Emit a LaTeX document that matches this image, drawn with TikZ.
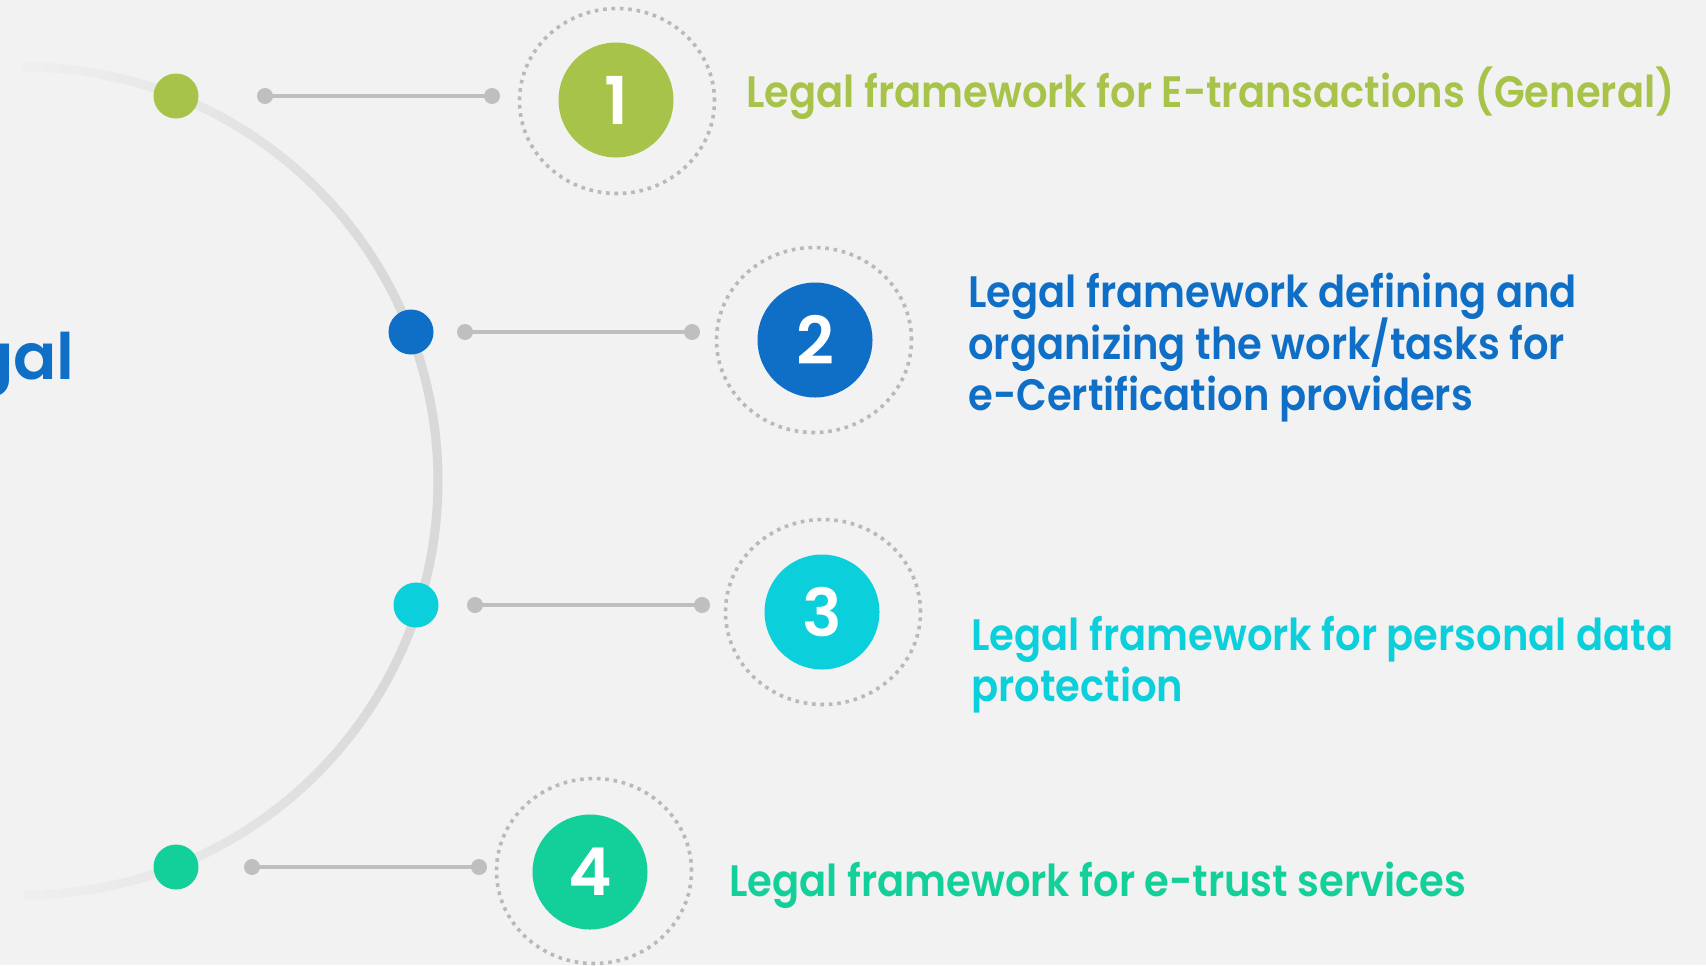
\documentclass[tikz,border=0pt]{standalone}
\usepackage{fontspec}
\setmainfont{Poppins}[BoldFont={Poppins SemiBold}]
\newfontfamily\lblfont{Poppins SemiBold}[FakeStretch=0.91]
\usetikzlibrary{shapes.geometric}
\definecolor{bg}{HTML}{F2F2F2}
\definecolor{cA}{HTML}{A8C34A}
\definecolor{cB}{HTML}{0F6FC6}
\definecolor{cC}{HTML}{0BCFDA}
\definecolor{cD}{HTML}{13CF9A}
\definecolor{lgray}{HTML}{BFBFBF}
\definecolor{dotgray}{HTML}{B9B9B9}
\definecolor{arcgray}{HTML}{D9D9D9}
\begin{document}
\begin{tikzpicture}[x=0.5pt,y=-0.5pt,
 bigdot/.style={circle,inner sep=0pt,minimum size=22.5pt},
 enddot/.style={circle,fill=lgray,inner sep=0pt,minimum size=8pt},
 numcirc/.style={circle,inner sep=0pt,minimum size=57.5pt,text=white,font=\fontsize{33}{33}\selectfont\bfseries},
 ring/.style={ellipse,draw=dotgray,line width=1.8pt,dash pattern=on 1.8pt off 2.4pt,minimum width=97.5pt,minimum height=92.5pt,inner sep=0pt},
 conn/.style={draw=lgray,line width=2pt},
 lbl/.style={anchor=base west,inner sep=0pt,font=\fontsize{22}{25.5}\lblfont}
]
\fill[bg] (0,0) rectangle (1706,965);
\useasboundingbox (0,0) rectangle (1706,965);
\begin{scope}
\clip (0,0) rectangle (1706,965);
\foreach \a in {-90,...,89} {
  \pgfmathsetmacro{\p}{100-max(0,1.5*(abs(\a+0.5)-30))}
  \draw[line width=4.5pt, draw=arcgray!\p!bg] ({24+414*cos(\a)},{481-414*sin(\a)}) -- ({24+414*cos(\a+1.3)},{481-414*sin(\a+1.3)});
}
\node[anchor=base east,inner sep=0pt,text=cB,font=\fontsize{32}{32}\selectfont\bfseries] (title) at (75,379) {Legal};
\end{scope}

% row 1
\node[bigdot,fill=cA] (d1) at (176,96) {};
\node[enddot] (e1a) at (265,96) {};
\node[enddot] (e1b) at (492,96) {};
\draw[conn] (e1a.center) -- (e1b.center);
\node[ring] (r1) at (617,101) {};
\node[numcirc,fill=cA] (n1) at (616,100) {1};
\node[lbl,text=cA] (t1) at (746,107) {Legal framework for E-transactions (General)};

% row 2
\node[bigdot,fill=cB] (d2) at (411,332) {};
\node[enddot] (e2a) at (465,332) {};
\node[enddot] (e2b) at (692,332) {};
\draw[conn] (e2a.center) -- (e2b.center);
\node[ring] (r2) at (814,340) {};
\node[numcirc,fill=cB] (n2) at (815,340) {2};
\node[lbl,text=cB] (t2a) at (968,307) {Legal framework defining and};
\node[lbl,text=cB] (t2b) at (968,359) {organizing the work/tasks for};
\node[lbl,text=cB] (t2c) at (968,410) {e-Certification providers};

% row 3
\node[bigdot,fill=cC] (d3) at (416,605) {};
\node[enddot] (e3a) at (475,605) {};
\node[enddot] (e3b) at (702,605) {};
\draw[conn] (e3a.center) -- (e3b.center);
\node[ring] (r3) at (823,612) {};
\node[numcirc,fill=cC] (n3) at (822,612) {3};
\node[lbl,text=cC] (t3a) at (971,650) {Legal framework for personal data};
\node[lbl,text=cC] (t3b) at (971,701) {protection};

% row 4
\node[bigdot,fill=cD] (d4) at (176,867) {};
\node[enddot] (e4a) at (252,867) {};
\node[enddot] (e4b) at (479,867) {};
\draw[conn] (e4a.center) -- (e4b.center);
\node[ring] (r4) at (594,871) {};
\node[numcirc,fill=cD] (n4) at (590,872) {4};
\node[lbl,text=cD] (t4) at (729,896) {Legal framework for e-trust services};
\end{tikzpicture}
\end{document}
